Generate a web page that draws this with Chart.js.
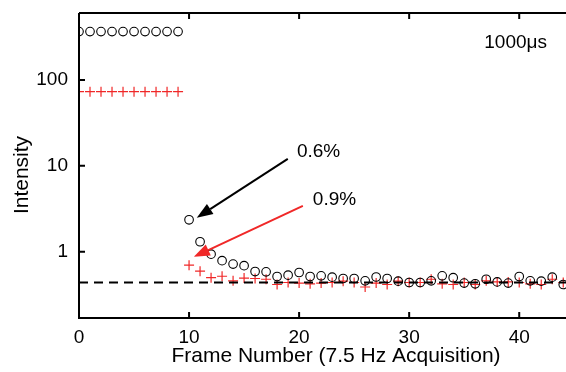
<script src="https://cdn.jsdelivr.net/npm/chart.js"></script>
<style>
    body {
        margin: 0;
        padding: 0;
        background-color: #ffffff;
    }
    .container {
        width: 566px;
        height: 372px;
        position: relative;
    }
</style>

<div class="container">
    <canvas id="chart"></canvas>
</div>

<script>
    // Frame numbers 0..44
    const frames = [
        0, 1, 2, 3, 4, 5, 6, 7, 8, 9,
        10, 11, 12, 13, 14, 15, 16, 17, 18, 19,
        20, 21, 22, 23, 24, 25, 26, 27, 28, 29,
        30, 31, 32, 33, 34, 35, 36, 37, 38, 39,
        40, 41, 42, 43, 44
    ];

    // black open circles
    const circleValues = [
        365, 365, 365, 365, 365, 365, 365, 365, 365, 365,
        2.36, 1.31, 0.94, 0.79, 0.72, 0.69, 0.59, 0.585, 0.516, 0.535,
        0.575, 0.516, 0.526, 0.508, 0.49, 0.49, 0.46, 0.51, 0.49, 0.456,
        0.44, 0.44, 0.46, 0.526, 0.50, 0.433, 0.425, 0.48, 0.447, 0.433,
        0.516, 0.46, 0.456, 0.508, 0.417
    ];

    // red plus markers
    const plusValues = [
        73, 73, 73, 73, 73, 73, 73, 73, 73, 73,
        0.70, 0.596, 0.50, 0.52, 0.46, 0.495, 0.49, 0.48, 0.417, 0.44,
        0.433, 0.425, 0.433, 0.44, 0.456, 0.44, 0.39, 0.433, 0.417, 0.456,
        0.44, 0.44, 0.48, 0.425, 0.417, 0.44, 0.417, 0.46, 0.447, 0.447,
        0.44, 0.425, 0.417, 0.48, 0.44
    ];

    const baselineLevel = 0.44;
    const xTicks = [0, 10, 20, 30, 40];
    const yTicks = [1, 10, 100];

    const xTitle = 'Frame Number (7.5 Hz Acquisition)';
    const yTitle = 'Intensity';

    // annotations in data coordinates
    const arrows = [
        { from: [18.97, 12.06], to: [10.7, 2.49], color: '#000000' },
        { from: [20.34, 3.43], to: [10.43, 0.875], color: '#f02828' }
    ];
    const labels = [
        { text: '0.6%', at: [19.8, 14.6] },
        { text: '0.9%', at: [21.25, 4.03] }
    ];
    const cornerLabel = '1000\u03bcs';

    const FONT = 'Arial, "Liberation Sans", sans-serif';

    const framePlugin = {
        id: 'frame',
        afterDatasetsDraw(chart) {
            const { ctx, chartArea: a, scales: { x, y } } = chart;
            ctx.save();
            ctx.strokeStyle = '#000';
            ctx.lineWidth = 2;
            ctx.beginPath();
            // left, bottom, top axis lines
            ctx.moveTo(a.left, a.top);
            ctx.lineTo(a.left, a.bottom);
            ctx.lineTo(a.right, a.bottom);
            ctx.moveTo(a.left, a.top);
            ctx.lineTo(a.right, a.top);
            // inward ticks
            xTicks.forEach(v => {
                const px = x.getPixelForValue(v);
                ctx.moveTo(px, a.bottom);
                ctx.lineTo(px, a.bottom - 6);
                ctx.moveTo(px, a.top);
                ctx.lineTo(px, a.top + 6);
            });
            yTicks.forEach(v => {
                const py = y.getPixelForValue(v);
                ctx.moveTo(a.left, py);
                ctx.lineTo(a.left + 6, py);
            });
            ctx.stroke();

            // arrows
            arrows.forEach(ar => {
                const x1 = x.getPixelForValue(ar.from[0]), y1 = y.getPixelForValue(ar.from[1]);
                const x2 = x.getPixelForValue(ar.to[0]), y2 = y.getPixelForValue(ar.to[1]);
                const ang = Math.atan2(y2 - y1, x2 - x1);
                const headLen = 16, headW = 6;
                const bx = x2 - headLen * Math.cos(ang), by = y2 - headLen * Math.sin(ang);
                ctx.strokeStyle = ar.color;
                ctx.fillStyle = ar.color;
                ctx.lineWidth = 2;
                ctx.beginPath();
                ctx.moveTo(x1, y1);
                ctx.lineTo(bx, by);
                ctx.stroke();
                ctx.beginPath();
                ctx.moveTo(x2, y2);
                ctx.lineTo(bx + headW * Math.sin(ang), by - headW * Math.cos(ang));
                ctx.lineTo(bx - headW * Math.sin(ang), by + headW * Math.cos(ang));
                ctx.closePath();
                ctx.fill();
            });

            // text labels
            ctx.fillStyle = '#000';
            ctx.font = '19px ' + FONT;
            ctx.textBaseline = 'middle';
            ctx.textAlign = 'left';
            labels.forEach(l => {
                ctx.fillText(l.text, x.getPixelForValue(l.at[0]), y.getPixelForValue(l.at[1]));
            });
            ctx.textAlign = 'right';
            ctx.fillText(cornerLabel, a.right - 19, a.top + 30);

            // axis titles
            ctx.font = '21px ' + FONT;
            ctx.textAlign = 'center';
            ctx.fillText(xTitle, 336, 356);
            ctx.translate(22, 175);
            ctx.rotate(-Math.PI / 2);
            ctx.fillText(yTitle, 0, 0);
            ctx.restore();
        }
    };

    const ctx = document.getElementById('chart').getContext('2d');
    new Chart(ctx, {
        type: 'scatter',
        data: {
            datasets: [
                {
                    label: 'baseline',
                    type: 'line',
                    data: [{ x: 0, y: baselineLevel }, { x: 44.25, y: baselineLevel }],
                    borderColor: '#000',
                    borderWidth: 2,
                    borderDash: [9, 6],
                    pointRadius: 0
                },
                {
                    label: 'circles',
                    data: frames.map((f, i) => ({ x: f, y: circleValues[i] })),
                    pointStyle: 'circle',
                    pointRadius: 4.3,
                    backgroundColor: 'rgba(0,0,0,0)',
                    borderColor: '#000',
                    borderWidth: 1.1
                },
                {
                    label: 'plus',
                    data: frames.map((f, i) => ({ x: f, y: plusValues[i] })),
                    pointStyle: 'cross',
                    pointRadius: 5,
                    borderColor: '#f02828',
                    borderWidth: 1.2
                }
            ]
        },
        options: {
            responsive: true,
            maintainAspectRatio: false,
            animation: false,
            layout: { autoPadding: false, padding: { top: 13, right: 0, left: 0, bottom: 0 } },
            plugins: {
                legend: { display: false },
                tooltip: { enabled: false }
            },
            scales: {
                x: {
                    type: 'linear',
                    min: 0,
                    max: 44.25,
                    grid: { display: false },
                    border: { display: false },
                    afterBuildTicks: s => { s.ticks = xTicks.map(v => ({ value: v })); },
                    afterFit: s => { s.height = 54; s.paddingLeft = 0; s.paddingRight = 0; },
                    ticks: {
                        color: '#000',
                        font: { size: 19, family: FONT },
                        padding: 0,
                        maxRotation: 0
                    }
                },
                y: {
                    type: 'logarithmic',
                    min: 0.17,
                    max: 600,
                    grid: { display: false },
                    border: { display: false },
                    afterBuildTicks: s => { s.ticks = yTicks.map(v => ({ value: v })); },
                    afterFit: s => { s.width = 79; s.paddingTop = 0; s.paddingBottom = 0; },
                    ticks: {
                        color: '#000',
                        font: { size: 19, family: FONT },
                        padding: 3,
                        callback: v => String(v)
                    }
                }
            }
        },
        plugins: [framePlugin]
    });
</script>
